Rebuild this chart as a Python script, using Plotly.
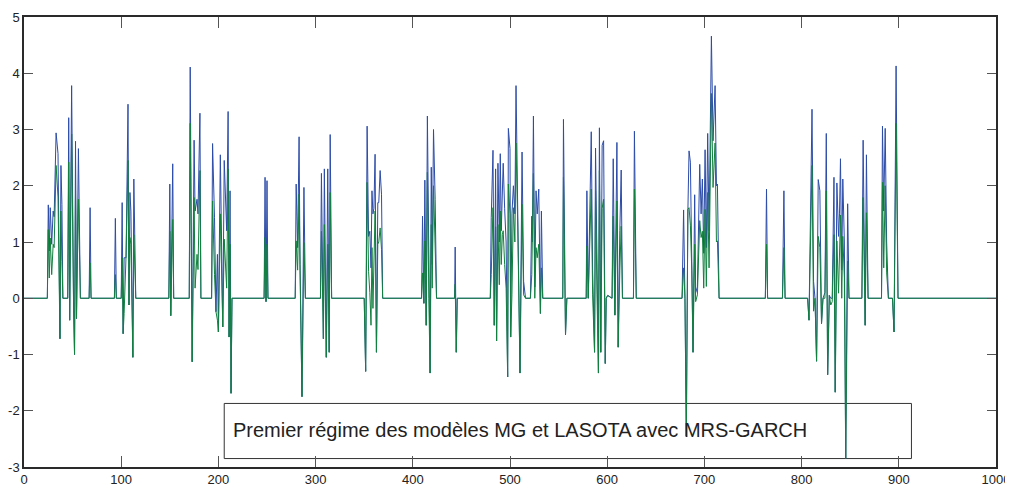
import plotly.graph_objects as go

# Time index of read points (flat zero stretches are given by their end points)
x_pts = [
    0, 24, 25, 26, 27, 28.5, 30, 31, 33, 35, 37, 38, 39, 40, 45, 46, 47, 49, 51, 52, 53, 54, 56, 58,
    67, 68, 69, 93, 94, 95, 100, 101, 102, 103, 105, 107, 108, 109, 110, 112, 113, 115,
    149, 150, 151, 153, 154, 170, 171, 173, 175, 176, 178, 179, 181, 182,
    193, 194, 196, 197.5, 199, 200, 202, 204.5, 206, 208.5, 210, 211, 212, 213, 214,
    247, 248, 249, 250, 251, 279, 280, 281.5, 283, 284, 285, 286, 288, 289.5,
    305, 306, 308, 309, 311, 312.5, 314, 315, 316.5,
    350, 351.5, 353, 354.5, 355.8, 357, 358, 359, 360, 361.2, 362.6, 364, 365, 366.4, 367.8, 369,
    409, 410, 411.4, 412.4, 413.8, 415, 416.5, 417.8, 419, 420, 421.3, 423, 424.4,
    443, 443.6, 444.7, 445.7,
    479.7, 480.7, 482.5, 483.8, 485.2, 486.2, 487.6, 489, 490, 491, 492.1, 493, 494.5, 496,
    497.6, 498.3, 500, 500.7, 502, 503.5, 505, 506.2, 508, 510.3, 512.4, 514, 516,
    521, 522.4, 523, 524.1, 525.5, 526.8, 528, 529.6, 531.3, 532.3, 533.7,
    554.3, 555, 557.1, 558.5, 578.4, 579.1, 580.5, 583.6, 585, 587, 588, 589.5, 591, 592,
    593.4, 594.8, 596.3, 598, 599, 600.5, 605, 606.2, 607.9, 610, 611.3, 613, 614.4, 615.7,
    627, 628, 629.9,
    677, 678.6, 680, 681.4, 683, 684.2, 685.6, 687, 688.3, 690, 691, 692.8, 695.2, 696.6,
    697.9, 699.3, 700.7, 702, 703.4, 704.8, 705.5, 707.2, 708.9, 711, 712.4, 713.4, 715.1,
    762.7, 763.9, 765, 780.3, 781.8, 783,
    806.2, 807.6, 809, 810.7, 812.3, 813.8, 815.4, 817.1, 818.8, 820.5, 822, 824, 825.4,
    826.8, 828.5, 830, 831.5, 833.3, 834.6, 836.3, 838, 839, 840, 841.3, 842.4, 844, 845.4,
    847.4, 848.8,
    862, 863.3, 865.4, 866.7, 868.4, 882.2, 883.2, 884.5, 886, 887.5, 889.3, 893.5, 895.1,
    897.2, 899.2, 1000,
]

# Blue series (model MG)
blue_vals = [
    0, 0, 1.66, 0.84, 1.61, 0.96, 1.55, 1.45, 2.94, 2.57, -0.72, 2.36, 1.67, 0, 0, 3.21, -0.39, 3.78, -0.12, -1.0, 2.79, -0.36, 2.66, 0,
    0, 1.61, 0, 0, 1.42, 0, 0, 1.70, -0.63, 0.72, 0.72, 3.45, -0.12, 1.88, 1.55, -1.05, 2.12, 0,
    0, 2.03, -0.31, 2.39, 0, 0, 4.11, -1.13, 2.81, 1.55, 1.76, 1.50, 3.29, 0,
    0, 2.75, 1.43, -0.24, 0.78, -0.60, 2.55, -0.51, 2.45, 1.20, 3.32, -0.69, 1.91, -1.69, 0,
    0, 2.15, -0.06, 2.09, 0, 0, 2.03, 0.90, 2.87, 0.50, -0.69, -1.75, 1.97, 0,
    0, 2.22, -0.72, 2.30, -1.05, 2.30, -0.96, 2.91, 0,
    0, -1.30, 3.06, 1.10, 1.19, 0.54, 1.91, 1.50, 1.60, 2.56, -0.96, 1.70, 1.70, 2.27, 1.85, 0,
    0, 1.46, -0.09, 2.10, -0.48, 3.24, 0.20, -1.33, 2.33, 0.60, 3.00, 1.75, 0,
    0, 0.91, -0.96, 0,
    0, 1.43, 2.63, -0.48, 2.30, -0.76, 2.40, 1.00, 2.57, 1.20, 2.03, 2.40, 1.59, 1.00,
    -1.40, 3.02, 2.66, -0.69, 1.50, 2.00, 1.50, 3.78, 1.50, -1.33, 2.60, 0.30, 0,
    0, 1.46, 1.00, 3.24, 0.20, 1.91, 1.50, 1.94, -0.27, 1.55, 0,
    0, 3.18, -0.65, 0, 0, 1.91, 0, 2.96, 0.50, -0.96, 2.67, 0.40, -1.33, 3.03,
    -0.96, 2.72, 2.80, -1.16, 0, 0.05, 0, 2.48, -0.30, 2.77, -0.87, 1.20, 2.28, 0,
    0, 2.97, 0,
    0, 1.57, 0, -2.45, 1.55, 2.62, 2.42, 0.10, -0.96, 1.84, 0.10, 0.20, 2.38, 1.50,
    2.12, 0.80, 2.64, 0.90, 2.93, 1.20, 2.48, 4.66, 2.80, 3.78, 2.00, 2.03, 0,
    0, 1.94, 0, 0, 1.91, 0,
    0, -0.39, 1.65, 3.36, 0.30, 0, -1.12, 2.11, 1.91, -0.45, 0, 0.10, 2.93,
    -1.36, 0.05, 0, 0, 2.15, -1.67, 2.05, 1.10, 1.50, 2.48, 0.50, 2.12, 1.00, -2.85,
    1.68, 0,
    0, 2.81, -0.48, 2.55, 0, 0, 3.06, 1.55, 3.02, 1.00, 0, 0, -0.60,
    4.13, 0, 0,
]

# Green series (model LASOTA)
green_vals = [
    0, 0, 1.22, 0.36, 1.07, 0.42, 0.96, 0.90, 2.36, 1.80, -0.72, 1.55, 0.65, 0, 0, 2.42, -0.39, 2.92, -0.12, -1.0, 1.91, -0.36, 1.76, 0,
    0, 0.63, 0, 0, 0.42, 0, 0, 0.72, -0.63, -0.27, 0.75, 2.45, -0.12, 1.08, 0.96, -1.05, 1.13, 0,
    0, 1.19, -0.31, 1.40, 0, 0, 3.11, -1.13, 1.79, 0.18, 0.78, 0.51, 2.27, 0,
    0, 1.73, 0.42, -0.24, -0.39, -0.60, 1.50, -0.51, 1.05, 0.18, 2.30, -0.69, 0.96, -1.69, 0,
    0, 1.08, -0.06, 0.96, 0, 0, 1.02, 0.50, 1.85, 0.60, -0.69, -1.75, 0.99, 0,
    0, 1.19, -0.72, 1.31, -1.05, 0.96, -0.96, 1.88, 0,
    0, -1.30, 2.06, 0.48, 0.10, -0.48, 0.90, -0.18, 0.80, 1.55, -0.96, 0.96, 1.00, 1.25, 0.87, 0,
    0, 0.45, -0.09, 1.02, -0.48, 2.24, 0.0, -1.33, 1.31, 0.18, 2.00, 0.75, 0,
    0, 0.25, -0.96, 0,
    0, 0.42, 1.61, -0.48, 1.27, -0.76, 1.31, 0.24, 1.55, 0.60, 1.13, 1.20, 0.60, 0.18,
    -1.40, 2.03, 1.50, -0.69, 0.06, 1.61, 1.00, 2.76, 1.25, -1.33, 1.67, 0.06, 0,
    0, 0.42, 0.96, 2.22, 0.0, 0.90, 0.72, 0.96, -0.27, 0.54, 0,
    0, 2.15, -0.65, 0, 0, 0.93, 0, 1.94, 0.06, -0.96, 1.91, 0.06, -1.33, 2.27,
    -0.96, 1.60, 1.76, -1.16, 0, 0.05, 0, 1.46, -0.30, 1.73, -0.87, 0.50, 1.28, 0,
    0, 1.94, 0,
    0, 0.54, 0, -2.45, 1.58, 1.61, 1.30, 0.50, -0.96, 0.96, -0.06, 0.06, 1.38, 1.08,
    1.19, 0.18, 1.58, 0.21, 1.88, 0.54, 1.43, 3.64, 1.97, 2.76, 1.00, 1.02, 0,
    0, 0.96, 0, 0, 0.90, 0,
    0, -0.39, 0.96, 2.36, -0.23, 0, -1.12, 1.10, 0.90, -0.45, 0, 0.0, 1.91,
    -1.36, 0.05, -0.12, -0.06, 1.13, -1.67, 1.02, 0.09, 1.00, 1.48, 0.0, 1.10, 0.36, -2.85,
    0.66, 0,
    0, 1.79, -0.48, 1.52, 0, 0, 2.06, 0.54, 2.00, 0.45, 0, 0, -0.60,
    3.11, 0, 0,
]

x_ticks = [0, 100, 200, 300, 400, 500, 600, 700, 800, 900, 1000]
y_ticks = [-3, -2, -1, 0, 1, 2, 3, 4, 5]
y_tick_labels = ["-3", "-2", "-1", "0", "1", "2", "3", "4", "5"]
caption = "Premier régime des modèles MG et LASOTA avec MRS-GARCH"

FONT = "Liberation Sans, Arial, sans-serif"

fig = go.Figure()
fig.add_trace(go.Scatter(x=x_pts, y=blue_vals, mode="lines",
                         line=dict(color="#2c4ca8", width=1), showlegend=False))
fig.add_trace(go.Scatter(x=x_pts, y=green_vals, mode="lines",
                         line=dict(color="#12803f", width=1), showlegend=False))

fig.add_shape(type="rect", xref="x", yref="y", x0=206, x1=913, y0=-1.87, y1=-2.85,
              line=dict(color="#333333", width=1), fillcolor="rgba(0,0,0,0)", layer="below")
fig.add_annotation(x=213, y=-2.34, xref="x", yref="y", text=caption, showarrow=False,
                   xanchor="left", yanchor="middle",
                   font=dict(family=FONT, size=20, color="#222222"))

axis_common = dict(showgrid=False, zeroline=False, showline=True, linecolor="#2a2a2a",
                   linewidth=1.5, mirror="ticks", ticks="inside", tickcolor="#555555",
                   tickwidth=1, automargin=False)

fig.update_xaxes(range=[0, 1000], tickvals=x_ticks, ticklen=11,
                 tickfont=dict(family=FONT, size=13, color="#222222"), **axis_common)
fig.update_yaxes(range=[-3, 5], tickvals=y_ticks, ticktext=y_tick_labels, ticklen=9,
                 tickfont=dict(family=FONT, size=13, color="#222222"), **axis_common)

# page body adds an 8 px offset, so the figure is sized to the remaining window
fig.update_layout(width=1005, height=483, margin=dict(l=16, r=17, t=9, b=24),
                  plot_bgcolor="white", paper_bgcolor="white")

fig.write_html("out.html")
